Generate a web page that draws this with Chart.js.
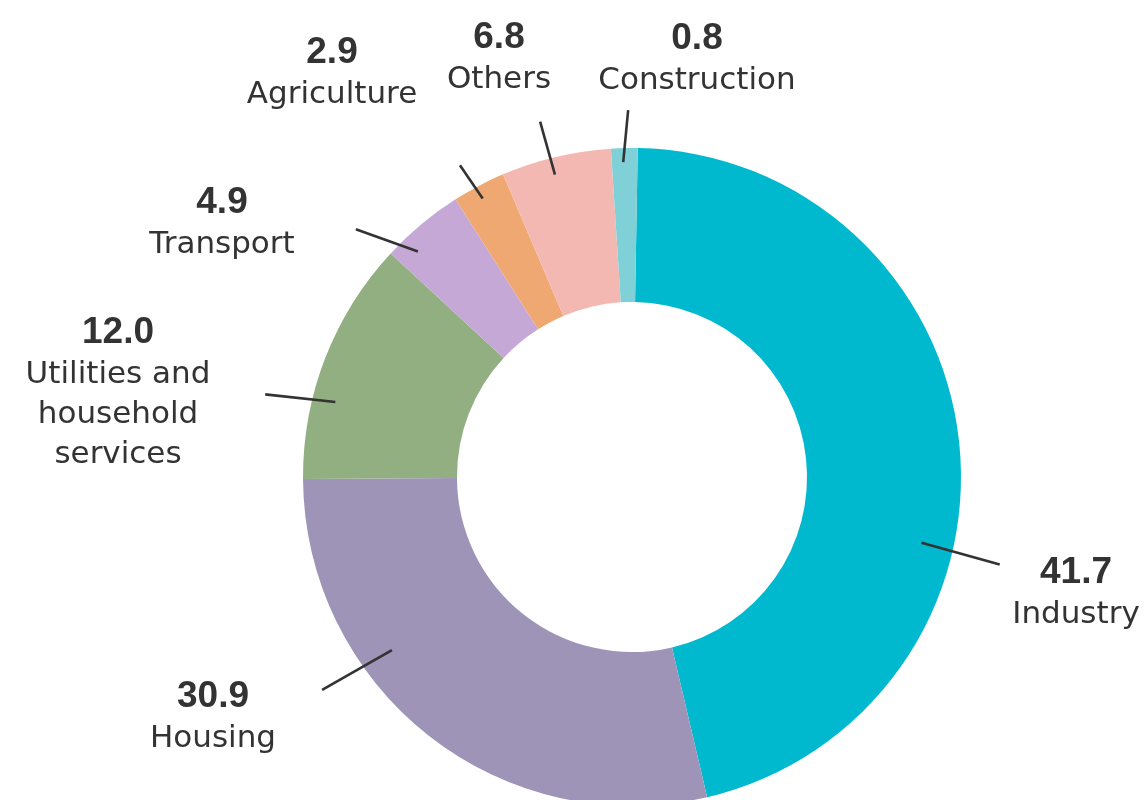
<!DOCTYPE html>
<html>
<head>
<meta charset="utf-8">
<script src="https://cdn.jsdelivr.net/npm/chart.js@4.4.1/dist/chart.umd.min.js"></script>
<style>
  html, body { margin: 0; padding: 0; background: #fff; overflow: hidden; }
  #wrap { width: 1147px; height: 820px; }
</style>
</head>
<body>
<div id="wrap"><canvas id="donut" width="1147" height="820"></canvas></div>
<script>
// categories, clockwise from the top
const categories = ['Industry', 'Housing', 'Utilities and household services', 'Transport', 'Agriculture', 'Others', 'Construction'];
// printed values
const labelValues = ['41.7', '30.9', '12.0', '4.9', '2.9', '6.8', '0.8'];
// slice sizes as drawn in the picture (%)
const sliceShares = [46.1, 28.6, 12.0, 4.1, 2.6, 5.4, 1.3];
// label text lines
const labelLines = [['Industry'], ['Housing'], ['Utilities and', 'household', 'services'], ['Transport'], ['Agriculture'], ['Others'], ['Construction']];

const colors = ['#00B9CF', '#9E94B7', '#92AF82', '#C6A8D6', '#EFA871', '#F4B8B3', '#80D0D7'];

// callout layout: leader line [startAngle, startR, endAngle, endR] (deg clockwise from top, px from centre)
const leaders = [
    [102.8, 297, 103.4, 378],
    [234.2, 296, 235.5, 376],
    [284.2, 306, 282.7, 376],
    [316.5, 311, 311.9, 371],
    [331.8, 316, 331.1, 356],
    [345.7, 312, 345.5, 367],
    [358.4, 315, 359.4, 367]
];
// text anchor: [centreX, baseline of the number]
const textAnchors = [[1076, 583], [213, 707], [118, 343], [222, 213], [332, 63], [499, 48], [697, 49]];

const FONT = '"DejaVu Sans", sans-serif';
const NUM_FONT = 'bold 37px "Liberation Sans", Arial, sans-serif';
const TEXT = '#333333';

const polar = (cx, cy, deg, r) => {
    const a = deg * Math.PI / 180;
    return [cx + r * Math.sin(a), cy - r * Math.cos(a)];
};

const callouts = {
    id: 'callouts',
    afterDatasetsDraw(chart) {
        const ctx = chart.ctx;
        const arc = chart.getDatasetMeta(0).data[0];
        const cx = arc.x, cy = arc.y;
        ctx.save();
        ctx.strokeStyle = TEXT;
        ctx.lineWidth = 2.6;
        leaders.forEach(l => {
            const p1 = polar(cx, cy, l[0], l[1]);
            const p2 = polar(cx, cy, l[2], l[3]);
            ctx.beginPath();
            ctx.moveTo(p1[0], p1[1]);
            ctx.lineTo(p2[0], p2[1]);
            ctx.stroke();
        });
        ctx.fillStyle = TEXT;
        ctx.textAlign = 'center';
        ctx.textBaseline = 'alphabetic';
        categories.forEach((c, i) => {
            const [x, y] = textAnchors[i];
            ctx.font = NUM_FONT;
            ctx.fillText(labelValues[i], x, y);
            ctx.font = '31px ' + FONT;
            labelLines[i].forEach((t, j) => ctx.fillText(t, x, y + 40 * (j + 1)));
        });
        ctx.restore();
    }
};

new Chart(document.getElementById('donut').getContext('2d'), {
    type: 'doughnut',
    data: {
        labels: categories,
        datasets: [{
            data: sliceShares,
            backgroundColor: colors,
            borderWidth: 0
        }]
    },
    options: {
        responsive: false,
        animation: false,
        rotation: 1,
        cutout: '53.2%',
        layout: { padding: { left: 303, right: 186, top: 148, bottom: 14 } },
        plugins: {
            legend: { display: false },
            tooltip: { enabled: false }
        }
    },
    plugins: [callouts]
});
</script>
</body>
</html>
